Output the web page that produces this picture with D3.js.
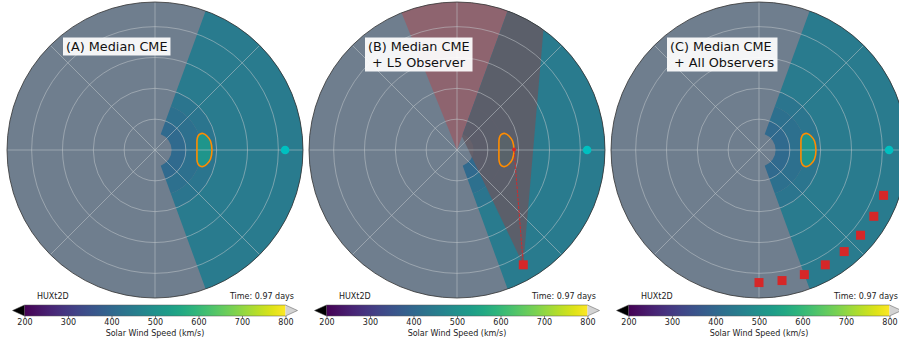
<!DOCTYPE html>
<html>
<head>
<meta charset="utf-8">
<script src="https://cdn.jsdelivr.net/npm/d3@7"></script>
<style>
  html, body { margin: 0; padding: 0; background: #fff; }
  svg text { font-family: "DejaVu Sans", sans-serif; }
</style>
</head>
<body>
<svg id="chart" width="899" height="339"></svg>
<script>
// ---- data (radii in solar radii, longitudes in degrees, speeds in km/s) ----
const panelTitles = [
  ["(A) Median CME"],
  ["(B) Median CME", " + L5 Observer"],
  ["(C) Median CME", " + All Observers"]
];
const rMax = 240;
const gridRadii = [50, 100, 150, 200];
const gridLons = [0, 45, 90, 135, 180, 225, 270, 315];

// solar wind speed bands inside the model wedge
const modelLon = [-70, 70];
const bandInner = [27, 50, 75, 100];
const bandSpeed = [405, 420, 434, 448];

// CME outline (polar) and the speed inside it
const cmeLon = [0, 13.4, 18.0, 19.6, 19.0, 15.1, 9.2, 0, -9.2, -15.1, -19.0, -19.6, -18.0, -13.4];
const cmeR = [68, 70, 73.3, 77.5, 82.3, 87.3, 91.2, 92.4, 91.2, 87.3, 82.3, 77.5, 73.3, 70];
const cmeSpeed = 512;

const earthLon = 0, earthR = 211;
const l5Lon = -60, obsR = 215;
const allObsLon = [-20, -30, -40, -50, -60, -70, -80, -90];

// panel B: region without coverage (pink) and L5 field of view (x, y in Rs)
const pinkLon = [70, 112];
const fovX = [107.5, -55.1, -55.1, 154.1];
const fovY = [-186.2, 154.1, 356.8, 356.8];
const losTarget = [0.5, 92.5]; // lon, r of CME point seen from L5

const cbarTicks = [200, 300, 400, 500, 600, 700, 800];
const timeLabel = "Time: 0.97 days";

// ---- layout ----
const svg = d3.select("#chart");
const centersX = [155, 457, 759];
const cy = 150;
const rScale = d3.scaleLinear().domain([0, rMax]).range([0, 148]);
const color = d3.scaleSequential(d3.interpolateViridis).domain([200, 800]);
const rad = d => d * Math.PI / 180;
const px = (lon, r) => rScale(r) * Math.cos(rad(lon));
const py = (lon, r) => -rScale(r) * Math.sin(rad(lon));
// d3.arc angles are clockwise from 12 o'clock
const arcAng = lon => Math.PI / 2 - rad(lon);

const wedge = (lon0, lon1, r0, r1) => d3.arc()({
  innerRadius: rScale(r0), outerRadius: rScale(r1),
  startAngle: arcAng(lon1), endAngle: arcAng(lon0)
});

const defs = svg.append("defs");

// colorbar gradient
const grad = defs.append("linearGradient").attr("id", "viridis");
d3.range(0, 1.001, 0.05).forEach(t => {
  grad.append("stop").attr("offset", t).attr("stop-color", d3.interpolateViridis(t));
});

panelTitles.forEach((title, i) => {
  const cx = centersX[i];
  const g = svg.append("g").attr("transform", `translate(${cx},${cy})`);

  // background disk
  g.append("circle").attr("r", rScale(rMax)).attr("fill", "#6f7e8e");

  // solar wind speed bands
  bandInner.forEach((r0, k) => {
    const r1 = k < bandInner.length - 1 ? bandInner[k + 1] : rMax;
    g.append("path").attr("d", wedge(modelLon[0], modelLon[1], r0, r1))
      .attr("fill", color(bandSpeed[k]));
  });

  // CME fill
  const cmePts = cmeLon.map((l, k) => [px(l, cmeR[k]), py(l, cmeR[k])]);
  const cmeLine = d3.line().curve(d3.curveCardinalClosed.tension(0.3));
  g.append("path").attr("d", cmeLine(cmePts)).attr("fill", color(cmeSpeed));

  if (i === 1) {
    // uncovered region
    g.append("path").attr("d", wedge(pinkLon[0], pinkLon[1], 0, rMax))
      .attr("fill", "#d62728").attr("opacity", 0.3);
    // L5 field of view, restricted to the model wedge
    defs.append("clipPath").attr("id", "clipB")
      .append("path").attr("d", wedge(modelLon[0], modelLon[1], 0, rMax));
    const fovPts = fovX.map((x, k) => [rScale(x), -rScale(fovY[k])]);
    g.append("path").attr("d", d3.line()(fovPts) + "Z")
      .attr("clip-path", "url(#clipB)")
      .attr("fill", "#645a64").attr("opacity", 0.85);
  }

  // grid
  const grid = g.append("g").attr("stroke", "#c4c8cc").attr("stroke-width", 0.8)
    .attr("stroke-opacity", 0.65).attr("fill", "none");
  gridRadii.forEach(r => grid.append("circle").attr("r", rScale(r)));
  gridLons.forEach(l => grid.append("line")
    .attr("x1", 0).attr("y1", 0).attr("x2", px(l, rMax)).attr("y2", py(l, rMax)));

  g.append("circle").attr("r", rScale(rMax)).attr("fill", "none")
    .attr("stroke", "#333").attr("stroke-width", 0.8);

  // CME outline
  g.append("path").attr("d", cmeLine(cmePts)).attr("fill", "none")
    .attr("stroke", "#ff8c00").attr("stroke-width", 1.6);

  // Earth
  g.append("circle").attr("cx", px(earthLon, earthR)).attr("cy", py(earthLon, earthR))
    .attr("r", 4.3).attr("fill", "#00c0c0");

  const square = (lon, r) => g.append("rect")
    .attr("x", px(lon, r) - 4.5).attr("y", py(lon, r) - 4.5)
    .attr("width", 9).attr("height", 9).attr("fill", "#d62728");

  if (i === 1) {
    g.append("line")
      .attr("x1", px(l5Lon, obsR)).attr("y1", py(l5Lon, obsR))
      .attr("x2", px(losTarget[0], losTarget[1])).attr("y2", py(losTarget[0], losTarget[1]))
      .attr("stroke", "#d62728").attr("stroke-width", 0.9).attr("stroke-dasharray", "3,1");
    g.append("circle").attr("cx", px(losTarget[0], losTarget[1])).attr("cy", py(losTarget[0], losTarget[1]))
      .attr("r", 2).attr("fill", "#d62728");
    square(l5Lon, obsR);
  }
  if (i === 2) allObsLon.forEach(l => square(l, obsR));

  // title box
  const tg = svg.append("g");
  const txt = tg.append("text").attr("x", cx - 89).attr("y", 51)
    .attr("font-size", 12.8).attr("fill", "#111").style("white-space", "pre");
  title.forEach((line, k) => txt.append("tspan").attr("x", cx - 89).attr("dy", k ? 16 : 0).text(line));
  const bb = txt.node().getBBox();
  tg.insert("rect", "text").attr("x", bb.x - 3).attr("y", bb.y - 1.5)
    .attr("width", bb.width + 6).attr("height", bb.height + 3)
    .attr("fill", "#fff").attr("opacity", 0.92);

  // colorbar
  const x0 = cx - 130.5, x1 = cx + 130.5, y0 = 305, h = 11, ext = 12;
  const cb = svg.append("g");
  cb.append("rect").attr("x", x0).attr("y", y0).attr("width", x1 - x0).attr("height", h)
    .attr("fill", "url(#viridis)");
  cb.append("path").attr("d", `M${x0},${y0}L${x0 - ext},${y0 + h / 2}L${x0},${y0 + h}Z`).attr("fill", "#000");
  cb.append("path").attr("d", `M${x1},${y0}L${x1 + ext},${y0 + h / 2}L${x1},${y0 + h}Z`).attr("fill", "#d3d3d3");
  cb.append("path")
    .attr("d", `M${x0},${y0}L${x1},${y0}L${x1 + ext},${y0 + h / 2}L${x1},${y0 + h}L${x0},${y0 + h}L${x0 - ext},${y0 + h / 2}Z`)
    .attr("fill", "none").attr("stroke", "#555").attr("stroke-width", 0.5);

  const cbScale = d3.scaleLinear().domain([200, 800]).range([x0, x1]);
  const axis = cb.append("g").attr("transform", `translate(0,${y0 + h})`)
    .call(d3.axisBottom(cbScale).tickValues(cbarTicks).tickSize(2).tickPadding(1.5).tickFormat(d3.format("d")));
  axis.select(".domain").remove();
  axis.selectAll("line").attr("stroke", "#333").attr("stroke-width", 0.6);
  axis.selectAll("text").attr("font-size", 8).attr("fill", "#222")
    .attr("font-family", "DejaVu Sans, sans-serif");

  cb.append("text").attr("x", cx).attr("y", 336).attr("text-anchor", "middle")
    .attr("font-size", 8).attr("fill", "#222").text("Solar Wind Speed (km/s)");
  cb.append("text").attr("x", cx - 118).attr("y", 299)
    .attr("font-size", 8).attr("fill", "#222").text("HUXt2D");
  cb.append("text").attr("x", cx + 139).attr("y", 299).attr("text-anchor", "end")
    .attr("font-size", 8).attr("fill", "#222").text(timeLabel);
});
</script>
</body>
</html>
